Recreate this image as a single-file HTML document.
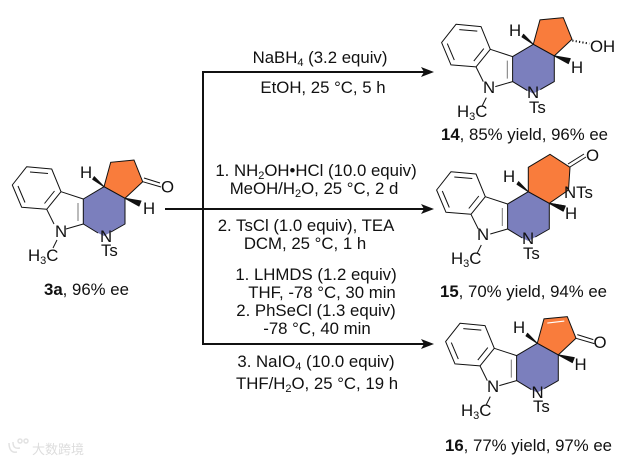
<!DOCTYPE html>
<html><head><meta charset="utf-8"><style>
html,body{margin:0;padding:0;background:#fff}
svg{display:block}
text{font-family:"Liberation Sans",Arial,sans-serif;fill:#111}
.l{font-size:16.8px}
.m{font-size:16.8px}
.c{text-anchor:middle}
</style></head><body>
<svg width="627" height="461" viewBox="0 0 627 461" xmlns="http://www.w3.org/2000/svg">
<defs>
<g id="core" fill="none" stroke="#111" stroke-width="1" stroke-linejoin="round">
<polygon points="83.3,199 104,186.7 125,198.3 125,224 112,231.5 104,236 96,232 83.3,224" fill="#7b7fbd" stroke="none"/>
<polyline points="61,191.7 83.3,199 104,186.7 125,198.3 125,224 111,232"/>
<polyline points="98,233 83.3,224 66,229"/>
<polygon points="26.7,166.7 51.7,169 61,191.7 46.7,209.3 21.7,207.3 12.3,185"/>
<line x1="30" y1="172" x2="48" y2="173.5"/>
<line x1="54.5" y1="191" x2="44.5" y2="203.5"/>
<line x1="25" y1="202.5" x2="18" y2="186"/>
<line x1="46.7" y1="209.3" x2="54" y2="224"/>
<line x1="83.3" y1="199" x2="83.3" y2="224"/>
<line x1="78" y1="203" x2="78" y2="221" stroke="#777"/>
<line x1="57" y1="240" x2="53" y2="248"/>
<polygon points="104,186.7 92.7,179.3 94.3,176.7" fill="#111" stroke="#111"/>
<polygon points="125,198.3 139,206 141,201" fill="#111" stroke="#111"/>
</g>
</defs>

<!-- arrows -->
<g stroke="#111" stroke-width="2" fill="none">
<line x1="165" y1="209" x2="203" y2="209"/>
<line x1="203" y1="71" x2="203" y2="345"/>
<line x1="202" y1="72" x2="424" y2="72"/>
<line x1="203" y1="209" x2="424" y2="209"/>
<line x1="202" y1="344" x2="424" y2="344"/>
</g>
<g fill="#111">
<polygon points="434,72 421,67 424,72 421,77"/>
<polygon points="434,209 421,204 424,209 421,214"/>
<polygon points="434,344 421,339 424,344 421,349"/>
</g>

<!-- 3a -->
<polygon points="104,186.7 110.7,162.3 134,160 142.7,181.7 125,198.3" fill="#f97c3c" stroke="#111" stroke-width="1"/>
<use href="#core"/>
<g stroke="#111" stroke-width="1"><line x1="142.7" y1="181.7" x2="161" y2="187"/><line x1="144" y1="178" x2="160" y2="183"/></g>
<text class="m" x="161" y="192.7">O</text>
<text class="m" x="80" y="178">H</text>
<text class="m" x="143" y="214">H</text>
<text class="m" x="55" y="237">N</text>
<text class="m" x="100" y="242">N</text>
<text class="m" x="101" y="256">Ts</text>
<text class="m" x="28" y="261">H<tspan font-size="11" dy="3">3</tspan><tspan dy="-3">C</tspan></text>
<text class="m" x="44" y="295"><tspan font-weight="bold">3a</tspan>, 96% ee</text>

<!-- 14 -->
<g transform="translate(429.3,-142.4)">
<polygon points="104,186.7 110.7,162.3 134,160 142.7,181.7 125,198.3" fill="#f97c3c" stroke="#111" stroke-width="1"/>
<use href="#core"/>
<line x1="143" y1="183" x2="160" y2="186" stroke="#111" stroke-width="2" stroke-dasharray="1.2 2.2"/>
</g>
<text class="m" x="590" y="52">OH</text>
<text class="m" x="509" y="36">H</text>
<text class="m" x="571" y="73">H</text>
<text class="m" x="483" y="93">N</text>
<text class="m" x="527" y="98">N</text>
<text class="m" x="529" y="113">Ts</text>
<text class="m" x="457" y="117">H<tspan font-size="11" dy="3">3</tspan><tspan dy="-3">C</tspan></text>
<text class="m" x="441" y="140"><tspan font-weight="bold">14</tspan>, 85% yield, 96% ee</text>

<!-- 15 -->
<g transform="translate(424.3,5)">
<use href="#core"/>
</g>
<polygon points="528.3,191.7 528.3,167.3 550,154.3 570,167.3 568.5,190 549.3,203.3" fill="#f97c3c" stroke="#111" stroke-width="1"/>
<polygon points="549.3,203.3 563,211 565,206" fill="#111" stroke="#111"/>
<g stroke="#111" stroke-width="1"><line x1="570" y1="167" x2="586" y2="157"/><line x1="568" y1="164" x2="584" y2="154"/></g>
<text class="m" x="586" y="161">O</text>
<text class="m" x="564" y="198">NTs</text>
<text class="m" x="503" y="182">H</text>
<text class="m" x="565" y="219">H</text>
<text class="m" x="477" y="240">N</text>
<text class="m" x="522" y="244">N</text>
<text class="m" x="523" y="259">Ts</text>
<text class="m" x="451" y="264">H<tspan font-size="11" dy="3">3</tspan><tspan dy="-3">C</tspan></text>
<text class="m" x="440" y="297"><tspan font-weight="bold">15</tspan>, 70% yield, 94% ee</text>

<!-- 16 -->
<g transform="translate(433.3,156.6)">
<polygon points="104,186.7 110.7,162.3 134,160 142.7,181.7 125,198.3" fill="#f97c3c" stroke="#111" stroke-width="1"/>
<use href="#core"/>
<line x1="114" y1="166.5" x2="131" y2="164.5" stroke="#fff" stroke-width="1.1"/>
<g stroke="#111" stroke-width="1"><line x1="142.7" y1="181.7" x2="161" y2="187"/><line x1="144" y1="178" x2="160" y2="183"/></g>
</g>
<text class="m" x="593.5" y="348">O</text>
<text class="m" x="513" y="333">H</text>
<text class="m" x="574.5" y="370">H</text>
<text class="m" x="487" y="392">N</text>
<text class="m" x="531.5" y="398">N</text>
<text class="m" x="533" y="412">Ts</text>
<text class="m" x="461" y="416">H<tspan font-size="11" dy="3">3</tspan><tspan dy="-3">C</tspan></text>
<text class="m" x="445" y="451"><tspan font-weight="bold">16</tspan>, 77% yield, 97% ee</text>

<!-- conditions -->
<text class="l c" x="320" y="63">NaBH<tspan font-size="11" dy="3">4</tspan><tspan dy="-3"> (3.2 equiv)</tspan></text>
<text class="l c" x="323" y="93">EtOH, 25 °C, 5 h</text>
<text class="l c" x="316" y="176">1. NH<tspan font-size="11" dy="3">2</tspan><tspan dy="-3">OH•HCl (10.0 equiv)</tspan></text>
<text class="l c" x="314" y="194">MeOH/H<tspan font-size="11" dy="3">2</tspan><tspan dy="-3">O, 25 °C, 2 d</tspan></text>
<text class="l c" x="306" y="231">2. TsCl (1.0 equiv), TEA</text>
<text class="l c" x="305" y="249">DCM, 25 °C, 1 h</text>
<text class="l c" x="316" y="280">1. LHMDS (1.2 equiv)</text>
<text class="l c" x="322" y="298">THF, -78 °C, 30 min</text>
<text class="l c" x="316" y="316">2. PhSeCl (1.3 equiv)</text>
<text class="l c" x="317" y="334">-78 °C, 40 min</text>
<text class="l c" x="316" y="367">3. NaIO<tspan font-size="11" dy="3">4</tspan><tspan dy="-3"> (10.0 equiv)</tspan></text>
<text class="l c" x="317" y="389">THF/H<tspan font-size="11" dy="3">2</tspan><tspan dy="-3">O, 25 °C, 19 h</tspan></text>

<!-- watermark -->
<g opacity="0.55" fill="none" stroke="#ccc" stroke-width="1.5">
<path d="M9,443 C9,450 12,453 17,452 M13,442 C13,447 15,449 20,448"/>
<circle cx="20" cy="441" r="2"/><circle cx="26" cy="441" r="2"/>
</g>
<text x="32" y="454" font-size="13" style="font-family:'Liberation Sans','Noto Sans CJK SC',sans-serif;fill:#ddd">大数跨境</text>
</svg>
</body></html>
